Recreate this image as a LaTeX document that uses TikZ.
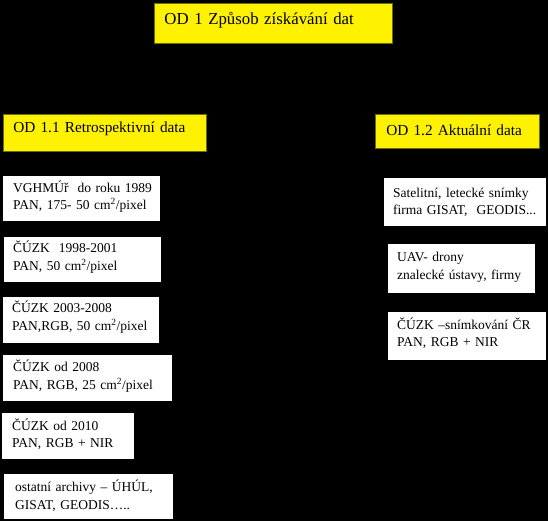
\documentclass[tikz,border=0pt]{standalone}
\usepackage{fontspec}
\setmainfont{Liberation Serif}
\definecolor{hdrline}{RGB}{110,110,0}
\newcommand{\bodyfnt}{\fontsize{13.5pt}{17.5pt}\selectfont}
\newcommand{\hdrfnt}{\fontsize{15.3pt}{18pt}\selectfont}
\newcommand{\ttlfnt}{\fontsize{16.8pt}{20pt}\selectfont}
\begin{document}
\begin{tikzpicture}[x=1pt,y=-1pt]
\tikzset{
  ybox/.style={draw=hdrline, line width=0.8pt, fill=yellow, anchor=north west,
    inner ysep=0pt, align=left},
  wbox/.style={fill=white, anchor=north west, inner ysep=0pt, align=left, font=\bodyfnt},
}
\fill[black] (0,0) rectangle (548,521);
\useasboundingbox (0,0) rectangle (548,521);
% headers
\node[ybox, font=\ttlfnt, inner xsep=10pt, text width=218pt, text height=21pt, text depth=19pt] (ttl) at (154,3) {\mbox{OD 1 Způsob získávání dat}};
\node[ybox, font=\hdrfnt, inner xsep=10pt, text width=183pt, text height=18pt, text depth=19pt] (h11) at (3,114) {\mbox{OD 1.1 Retrospektivní data}};
\node[ybox, font=\hdrfnt, inner xsep=11pt, text width=142pt, text height=21pt, text depth=13pt] (h12) at (375,114) {\mbox{OD 1.2 Aktuální data}};
% left column
\node[wbox, inner xsep=10pt, text width=137pt, text height=16pt, text depth=29pt] (b1) at (3,176)
  {\mbox{VGHMÚř\ \ do roku 1989}\\\mbox{PAN, 175- 50 cm\textsuperscript{2}/pixel}};
\node[wbox, inner xsep=9pt, text width=139pt, text height=15.7pt, text depth=29.3pt] (b2) at (4,237)
  {\mbox{ČÚZK\ \ 1998-2001}\\\mbox{PAN, 50 cm\textsuperscript{2}/pixel}};
\node[wbox, inner xsep=9pt, text width=138pt, text height=15.7pt, text depth=30.3pt] (b3) at (3,297)
  {\mbox{ČÚZK 2003-2008}\\\mbox{PAN,RGB, 50 cm\textsuperscript{2}/pixel}};
\node[wbox, inner xsep=10pt, text width=149pt, text height=16.7pt, text depth=29.3pt] (b4) at (3,355)
  {\mbox{ČÚZK od 2008}\\\mbox{PAN, RGB, 25 cm\textsuperscript{2}/pixel}};
\node[wbox, inner xsep=10pt, text width=112pt, text height=17pt, text depth=29pt] (b5) at (2,413)
  {\mbox{ČÚZK od 2010}\\\mbox{PAN, RGB + NIR}};
\node[wbox, inner xsep=11pt, text width=147pt, text height=17.7pt, text depth=27.3pt] (b6) at (4,474)
  {\mbox{ostatní archivy – ÚHÚL,}\\\mbox{GISAT, GEODIS…..}};
% right column
\node[wbox, inner xsep=9pt, text width=144pt, text height=19pt, text depth=29pt] (r1) at (384,178)
  {\mbox{Satelitní, letecké snímky}\\\mbox{firma GISAT,\ \ GEODIS...}};
\node[wbox, inner xsep=9pt, text width=129pt, text height=17.7pt, text depth=31.3pt] (r2) at (388,244)
  {\mbox{UAV- drony}\\\mbox{znalecké ústavy, firmy}};
\node[wbox, inner xsep=9pt, text width=140pt, text height=17pt, text depth=31pt] (r3) at (388,312)
  {\mbox{ČÚZK –snímkování ČR}\\\mbox{PAN, RGB + NIR}};
\end{tikzpicture}
\end{document}
